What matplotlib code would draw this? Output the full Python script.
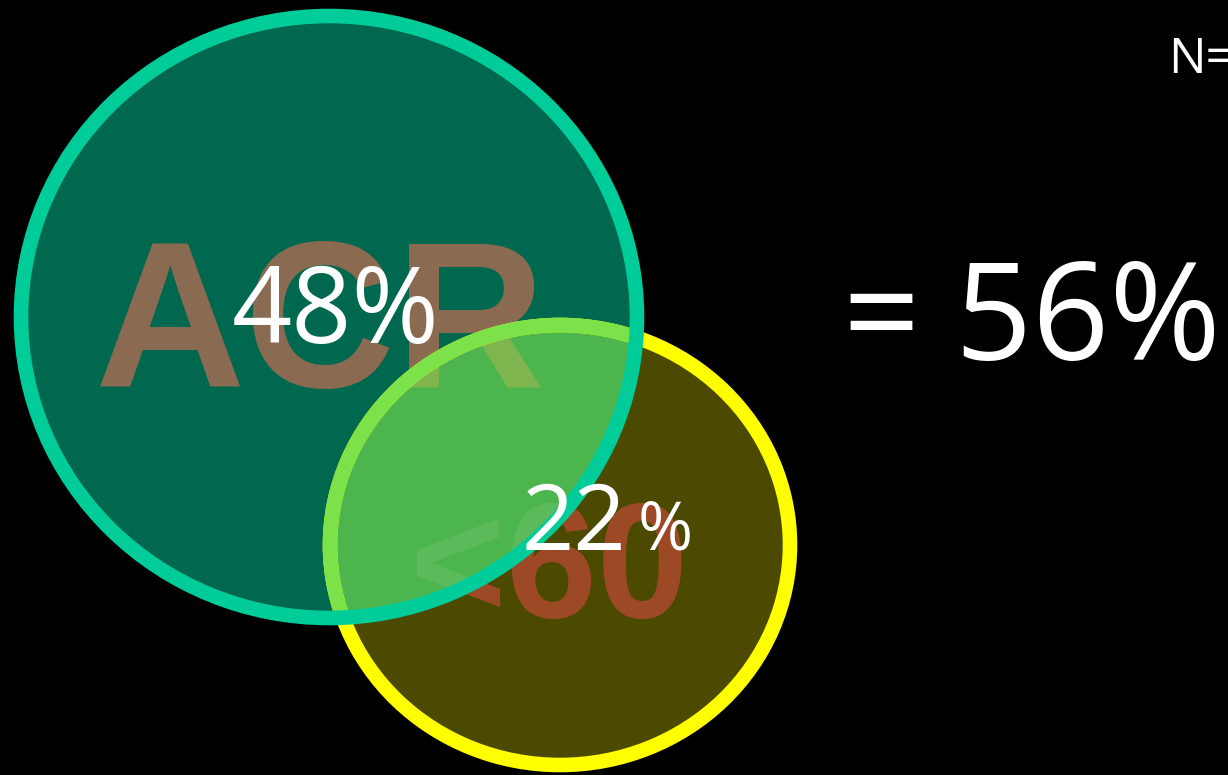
import matplotlib.pyplot as plt
from matplotlib.patches import Ellipse, PathPatch
from matplotlib.textpath import TextPath
from matplotlib.font_manager import FontProperties
from matplotlib.transforms import Affine2D

# Venn of the two groups and their combined share
groups = ["ACR", "<60"]
group_pct = [48, 22]
total_pct = 56
n_label = "N="

plt.rcParams['font.family'] = ['Open Sans', 'DejaVu Sans']

fig = plt.figure(figsize=(12.28, 7.75), dpi=100, facecolor="black")
ax = fig.add_axes([0, 0, 1, 1])
ax.set_xlim(0, 1228)
ax.set_ylim(775, 0)
ax.set_facecolor("black")
ax.axis("off")

big_c, big_w, big_h = (329, 317), 616, 602
small_c, small_w, small_h = (560, 545), 460, 440

def ell(c, w, h, **kw):
    e = Ellipse(c, w, h, **kw)
    ax.add_patch(e)
    return e

# clip shape for the overlap
big_clip = Ellipse(big_c, big_w, big_h, transform=ax.transData)

# fills
ell(small_c, small_w, small_h, facecolor="#4C4900", edgecolor="none", zorder=1)
ax.text(549, 617, groups[1], ha="center", va="baseline", fontsize=118,
        fontweight="bold", family="Liberation Sans", color="#9E4926", zorder=2)
ell(big_c, big_w, big_h, facecolor="#00684F", edgecolor="none", zorder=3)
ax.text(321, 387, groups[0], ha="center", va="baseline", fontsize=150,
        fontweight="bold", family="Liberation Sans", color="#8A6A50", zorder=4)

ov = ell(small_c, small_w, small_h, facecolor="#7AE14E", alpha=0.64,
         edgecolor="none", zorder=5)
ov.set_clip_path(big_clip)

# faint "<60" seen through the overlap (text as a path so the clip applies)
fp = FontProperties(family="Liberation Sans", weight="bold")
tp = TextPath((0, 0), groups[1], size=118 * 100 / 72, prop=fp)
bb = tp.get_extents()
tr = Affine2D().translate(-(bb.x0 + bb.x1) / 2, 0).scale(1, -1).translate(549, 617)
faint = PathPatch(tr.transform_path(tp), facecolor="#5BBA59", edgecolor="none",
                  zorder=5.5)
ax.add_patch(faint)
faint.set_clip_path(big_clip)

# outlines
ell(small_c, small_w, small_h, facecolor="none", edgecolor="#FFFF00",
    linewidth=10.5, zorder=6)
inner = ell(small_c, small_w, small_h, facecolor="none", edgecolor="#7CE24A",
            linewidth=10.5, zorder=7)
inner.set_clip_path(big_clip)
ell(big_c, big_w, big_h, facecolor="none", edgecolor="#00CC99",
    linewidth=10.5, zorder=8)

# labels
ax.text(336, 343, f"{group_pct[0]}%", ha="center", va="baseline",
        fontsize=76, color="white", zorder=10)
ax.text(574, 550, f"{group_pct[1]}", ha="center", va="baseline",
        fontsize=66, color="white", zorder=10, fontstretch="expanded")
ax.text(638, 550, "%", ha="left", va="baseline",
        fontsize=48, color="white", zorder=10)
ax.text(843, 360, f"= {total_pct}%", ha="left", va="baseline",
        fontsize=97, color="white", zorder=10)
ax.text(1168, 73, n_label, ha="left", va="baseline",
        fontsize=36, color="white", zorder=10)

fig.savefig("out.png", dpi=100, facecolor="black")
